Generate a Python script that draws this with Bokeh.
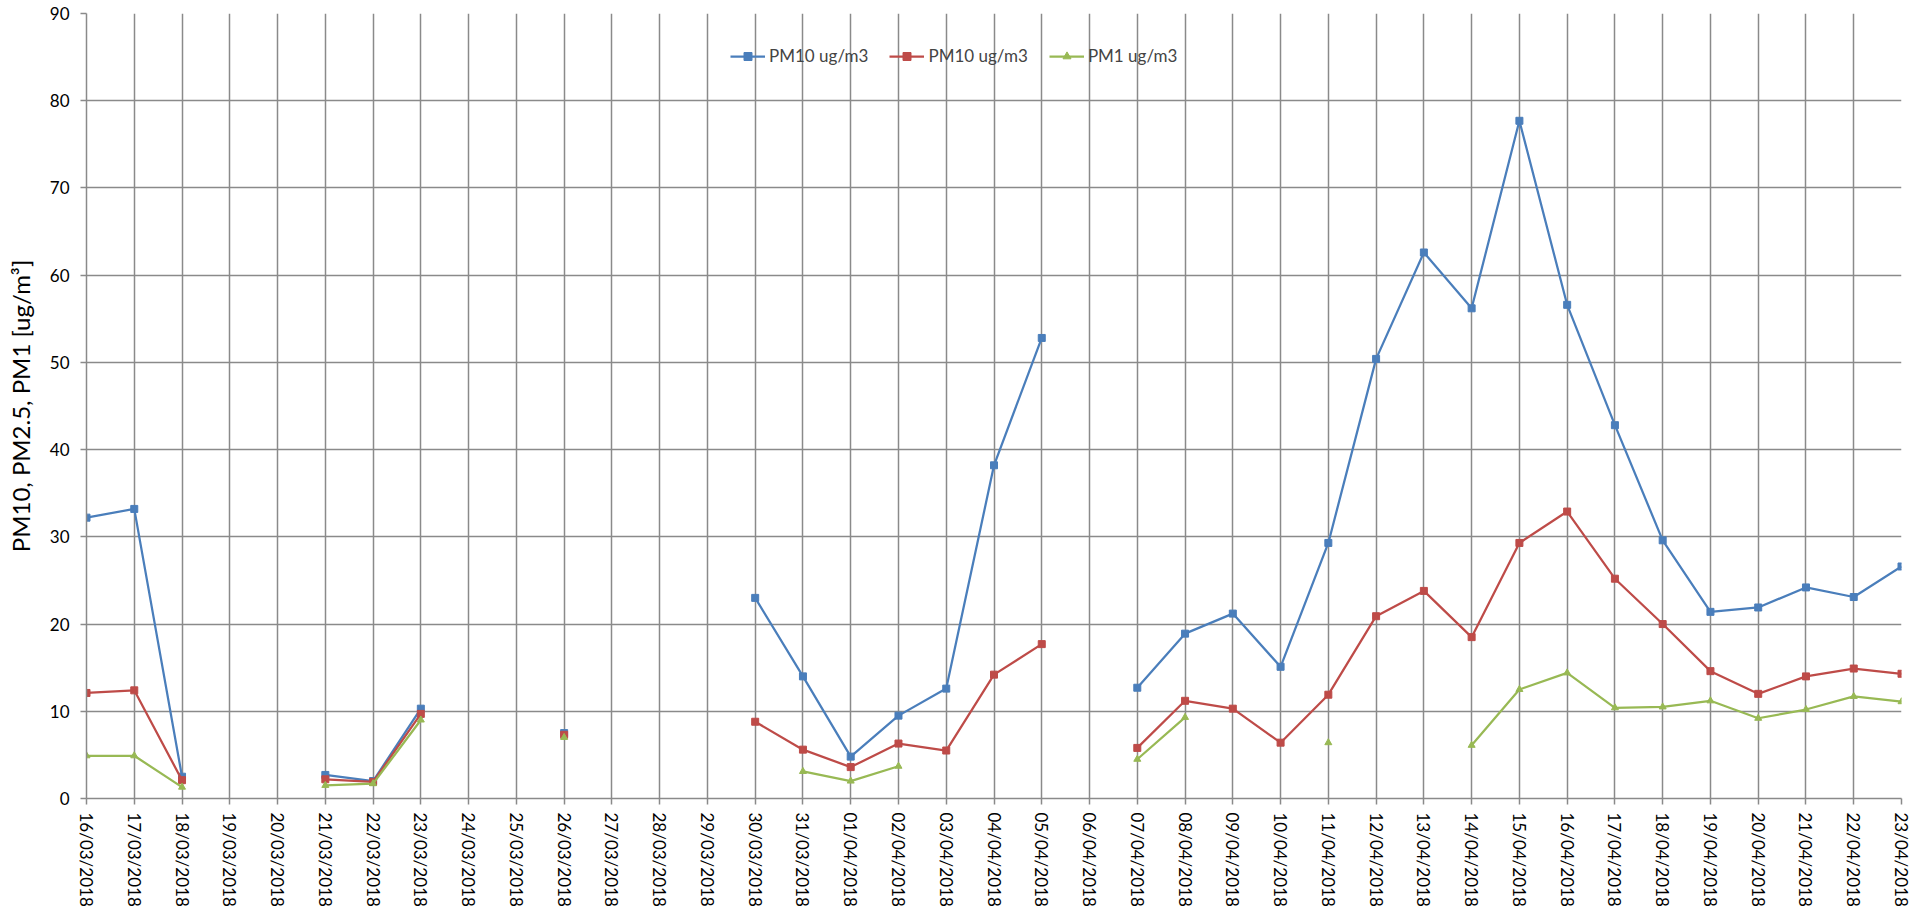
import math
from bokeh.plotting import figure
from bokeh.models import FixedTicker, Legend, LegendItem, Range1d, ColumnDataSource
from bokeh.embed import file_html
from bokeh.resources import INLINE

nan = float("nan")

dates = ["16/03/2018", "17/03/2018", "18/03/2018", "19/03/2018", "20/03/2018",
         "21/03/2018", "22/03/2018", "23/03/2018", "24/03/2018", "25/03/2018",
         "26/03/2018", "27/03/2018", "28/03/2018", "29/03/2018", "30/03/2018",
         "31/03/2018", "01/04/2018", "02/04/2018", "03/04/2018", "04/04/2018",
         "05/04/2018", "06/04/2018", "07/04/2018", "08/04/2018", "09/04/2018",
         "10/04/2018", "11/04/2018", "12/04/2018", "13/04/2018", "14/04/2018",
         "15/04/2018", "16/04/2018", "17/04/2018", "18/04/2018", "19/04/2018",
         "20/04/2018", "21/04/2018", "22/04/2018", "23/04/2018"]

pm10 = [32.2, 33.2, 2.5, nan, nan, 2.7, 2.0, 10.3, nan, nan, 7.5, nan, nan, nan,
        23.0, 14.0, 4.8, 9.5, 12.6, 38.2, 52.8, nan, 12.7, 18.9, 21.2, 15.1, 29.3,
        50.4, 62.6, 56.2, 77.7, 56.6, 42.8, 29.6, 21.4, 21.9, 24.2, 23.1, 26.6]

pm25 = [12.1, 12.4, 2.1, nan, nan, 2.2, 1.9, 9.7, nan, nan, 7.3, nan, nan, nan,
        8.8, 5.6, 3.6, 6.3, 5.5, 14.2, 17.7, nan, 5.8, 11.2, 10.3, 6.4, 11.9,
        20.9, 23.8, 18.5, 29.3, 32.9, 25.2, 20.0, 14.6, 12.0, 14.0, 14.9, 14.3]

pm1 = [4.9, 4.9, 1.3, nan, nan, 1.5, 1.7, 9.0, nan, nan, 7.0, nan, nan, nan,
       nan, 3.1, 2.0, 3.7, nan, nan, nan, nan, 4.5, 9.3, nan, nan, 6.4,
       nan, nan, 6.1, 12.5, 14.4, 10.4, 10.5, 11.2, 9.2, 10.2, 11.7, 11.1]

series_labels = ["PM10 ug/m3", "PM10 ug/m3", "PM1 ug/m3"]
y_ticks = [0, 10, 20, 30, 40, 50, 60, 70, 80, 90]

x = list(range(len(dates)))
src = ColumnDataSource(dict(x=x, pm10=pm10, pm25=pm25, pm1=pm1))

FONT = "Lato"
GRID = "#8a8a8a"

p = figure(width=1911, height=912, output_backend="svg", toolbar_location=None,
           x_range=Range1d(0, len(dates) - 1), y_range=Range1d(0, 90),
           min_border_left=86, min_border_right=10, min_border_top=13,
           min_border_bottom=114)
p.outline_line_color = None
p.background_fill_color = "white"

# grids
p.xgrid.ticker = FixedTicker(ticks=x)
p.ygrid.ticker = FixedTicker(ticks=y_ticks)
for g in (p.xgrid[0], p.ygrid[0]):
    g.grid_line_color = GRID
    g.grid_line_width = 1.5

# axes
p.xaxis.ticker = FixedTicker(ticks=x)
p.xaxis.major_label_overrides = {i: d for i, d in enumerate(dates)}
p.xaxis.major_label_orientation = -math.pi / 2
p.yaxis.ticker = FixedTicker(ticks=y_ticks)
p.yaxis.axis_label = "PM10, PM2.5, PM1 [ug/m\u00b3]"
for ax in (p.xaxis[0], p.yaxis[0]):
    ax.axis_line_color = GRID
    ax.axis_line_width = 1.5
    ax.major_tick_line_color = GRID
    ax.major_tick_line_width = 1.5
    ax.major_tick_in = 0
    ax.major_tick_out = 6
    ax.minor_tick_line_color = None
    ax.major_label_text_font = FONT
    ax.major_label_text_font_size = "17px"
    ax.major_label_text_color = "black"
    ax.axis_label_text_font = FONT
    ax.axis_label_text_font_size = "24px"
    ax.axis_label_text_font_style = "normal"
    ax.axis_label_text_color = "black"
p.yaxis.major_label_standoff = 11
p.yaxis.axis_label_standoff = 12
p.xaxis.major_label_standoff = 8

colors = ["#4A7EBB", "#BE4B48", "#98B954"]
cols = ["pm10", "pm25", "pm1"]
markers = ["square", "square", "triangle"]
msizes = [7, 7, 7]

items = []
for col, c, m, s, lab in zip(cols, colors, markers, msizes, series_labels):
    ln = p.line("x", col, source=src, line_color=c, line_width=2.25)
    sc = p.scatter("x", col, source=src, marker=m, size=s, fill_color=c,
                   line_color=c, line_width=1)
    items.append(LegendItem(label=lab, renderers=[ln, sc]))

legend = Legend(items=items, orientation="horizontal", location=(644, 732),
                background_fill_alpha=0, border_line_alpha=0,
                label_text_font=FONT, label_text_font_size="17px",
                glyph_width=35, glyph_height=20, label_height=20,
                spacing=21, label_standoff=4, padding=0, margin=0)
p.add_layout(legend, "center")

open("out.html", "w").write(file_html(p, INLINE))
